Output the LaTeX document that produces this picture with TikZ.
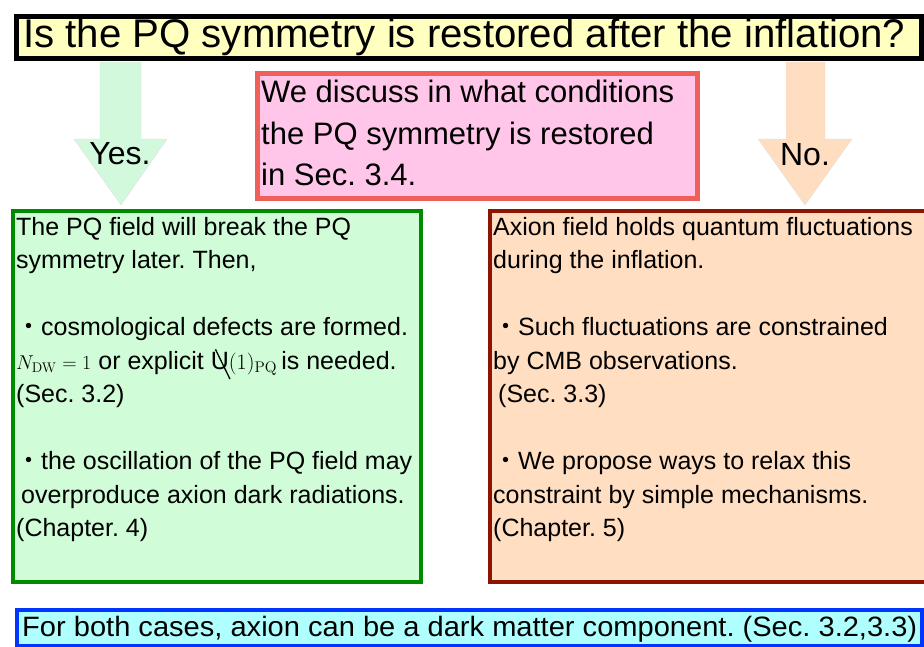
\RequirePackage{fix-cm}
\documentclass[tikz,border=0pt]{standalone}
\usepackage[no-math]{fontspec}
\setmainfont{Liberation Sans}
\newfontfamily\cjk{Noto Sans CJK JP}
\usetikzlibrary{positioning}
\frenchspacing

\definecolor{titlefill}{HTML}{FFFFC0}
\definecolor{notefill}{HTML}{FFC6EA}
\definecolor{notedraw}{HTML}{F0605A}
\definecolor{yesfill}{HTML}{D0FCD8}
\definecolor{yesdraw}{HTML}{008A00}
\definecolor{yesarrow}{HTML}{D2F9DC}
\definecolor{nofill}{HTML}{FFDEC2}
\definecolor{nodraw}{HTML}{8C1400}
\definecolor{noarrow}{HTML}{FFDDC0}
\definecolor{bothfill}{HTML}{B0FFFF}
\definecolor{bothdraw}{HTML}{0036FF}

\newcommand{\dotitem}{{\cjk ・}}
\newcommand{\slashU}{\makebox[0pt][l]{\hspace{4pt}\raisebox{-10pt}{\rotatebox{26}{\rule{1.3pt}{33pt}}}}U}

\begin{document}
\begin{tikzpicture}[x=1pt,y=-1pt]
    \tikzstyle{panel}=[rectangle, anchor=north west, inner sep=0pt]
    \tikzstyle{body}=[anchor=north west, inner sep=0pt, align=left, font=\fontsize{25}{33.5}\selectfont]
    \tikzstyle{answer}=[inner sep=0pt, font=\fontsize{32}{32}\selectfont]
    \useasboundingbox (0,0) rectangle (924,646);

    % question
    \node[panel, draw=black, line width=4.5pt, fill=titlefill, minimum width=905pt, minimum height=42pt] (question) at (14,14) {};
    \node[anchor=base west, inner sep=0pt] (questiontext) at (23,47)
        {\resizebox{882pt}{\height}{\fontsize{40}{40}\selectfont Is the PQ symmetry is restored after the inflation?}};

    % answer arrows
    \filldraw[draw=black!12, fill=yesarrow] (100,62) -- (141,62) -- (141,139) -- (167,139)
                                             -- (121,205) -- (74,139) -- (100,139) -- cycle;
    \filldraw[draw=black!12, fill=noarrow]  (786,62) -- (825,62) -- (825,139) -- (852,139)
                                             -- (805,205) -- (758,139) -- (786,139) -- cycle;
    \node[answer] (yes) at (120,154) {Yes.};
    \node[answer] (no)  at (805,155) {No.};

    % note in the middle
    \node[panel, draw=notedraw, line width=5pt, fill=notefill, minimum width=440pt, minimum height=125pt] (note) at (254.5,71) {};
    \node[body, font=\fontsize{31}{41.5}\selectfont] (notetext) at (261,80)
        {We discuss in what conditions\\the PQ symmetry is restored\\in Sec. 3.4.};

    % restored case
    \node[panel, draw=yesdraw, line width=4pt, fill=yesfill, minimum width=408pt, minimum height=371pt] (yesbox) at (11,209) {};
    \node[body] (yestext) at (16,217)
        {The PQ field will break the PQ\\
         symmetry later. Then,\\[33.5pt]
         \dotitem cosmological defects are formed.\\
         {\fontsize{20}{20}\selectfont$N_{\mathrm{DW}}=1$} or explicit \slashU{\fontsize{22}{22}\selectfont$(1)_{\mathrm{PQ}}$}\,is needed.\\
         (Sec. 3.2)\\[33.5pt]
         \dotitem the oscillation of the PQ field may\\
         \hspace{5pt}overproduce axion dark radiations.\\
         (Chapter. 4)};

    % not restored case
    \node[panel, draw=nodraw, line width=4pt, fill=nofill, minimum width=460pt, minimum height=371pt] (nobox) at (488,209) {};
    \node[body] (notext) at (493,217)
        {Axion field holds quantum fluctuations\\
         during the inflation.\\[33.5pt]
         \dotitem Such fluctuations are constrained\\
         by CMB observations.\\
         \hspace{5pt}(Sec. 3.3)\\[33.5pt]
         \dotitem We propose ways to relax this\\
         constraint by simple mechanisms.\\
         (Chapter. 5)};

    % both cases
    \node[panel, draw=bothdraw, line width=4pt, fill=bothfill, minimum width=905pt, minimum height=36pt] (both) at (15,608) {};
    \node[anchor=base west, inner sep=0pt] (bothtext) at (22,636)
        {\resizebox{895pt}{\height}{\fontsize{28}{28}\selectfont For both cases, axion can be a dark matter component. (Sec. 3.2,3.3)}};
\end{tikzpicture}
\end{document}
